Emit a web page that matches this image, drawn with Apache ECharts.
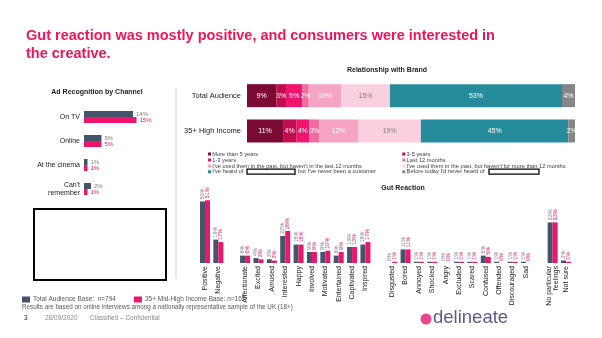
<!DOCTYPE html>
<html><head><meta charset="utf-8">
<script src="https://cdn.jsdelivr.net/npm/echarts@6/dist/echarts.min.js"></script>
<style>html,body{margin:0;padding:0;background:#fff}#c{width:602px;height:338px}</style>
</head><body><div id="c"></div>
<script>
// ---- Ad Recognition by Channel ----
const adCategories = ['On TV', 'Online', 'At the cinema', "Can't\nremember"];
const adTotal = [14, 5, 1, 2];
const adHigh = [15, 5, 1, 1];

// ---- Relationship with Brand ----
const relRows = ['Total Audience', '35+ High Income'];
const relSegments = [
  'More than 5 years',
  '3-5 years',
  '1-3 years',
  'Last 12 months',
  "I've used them in the past, but haven't in the last 12 months",
  "I've used them in the past, but haven't for more than 12 months",
  "I've heard of [brand] but I've never been a customer",
  "Before today I'd never heard of [brand]"
];
const relTotal = [9, 3, 5, 2, 10, 15, 53, 4];
const relHigh = [11, 4, 4, 3, 12, 19, 45, 2];

// ---- Gut Reaction ----
const gutCategories = ['Positive', 'Negative', '', 'Affectionate', 'Excited', 'Amused', 'Interested', 'Happy',
  'Involved', 'Motivated', 'Entertained', 'Captivated', 'Inspired', ' ', 'Disgusted', 'Bored', 'Annoyed',
  'Shocked', 'Angry', 'Excluded', 'Scared', 'Confused', 'Offended', 'Discouraged', 'Sad', '  ',
  'No particular\nfeelings', 'Not sure'];
const gutTotal = [50, 19, null, 6, 4, 3, 22, 15, 9, 9, 6, 13, 15, null, 0, 11, 1, 1, 0, 1, 1, 6, 1, 1, 1, null, 33, 2];
const gutHigh = [51, 17, null, 6, 3, 2, 26, 15, 9, 10, 9, 13, 17, null, 1, 11, 1, 1, 0, 1, 1, 5, 0, 1, 0, null, 33, 1];

const baseNames = ['Total Audience Base:  n=794', '35+ Mid-High Income Base: n=167'];

const FONT = 'Liberation Sans, Arial, sans-serif';
const DARK = '#44546A';
const PINK = '#F0146C';
const relColors = ['#7B0A35', '#C00D4E', '#F0146C', '#F36A9E', '#F7A3C4', '#FAD0E0', '#268C9B', '#858585'];
const relLabelColors = ['#fff', '#fff', '#fff', '#fff', '#fff', '#7f7f7f', '#fff', '#fff'];

const sumT = relTotal.reduce((a, b) => a + b, 0);
const sumH = relHigh.reduce((a, b) => a + b, 0);
const relRaw = [relTotal, relHigh];

const series = [];
// Ad recognition
series.push({
  name: baseNames[0], type: 'bar', xAxisIndex: 0, yAxisIndex: 0, data: adTotal,
  barWidth: 6, barGap: '0%', itemStyle: { color: DARK },
  label: { show: true, position: 'right', distance: 3, formatter: '{c}%', fontSize: 6, color: '#808080', fontFamily: FONT }
});
series.push({
  name: baseNames[1], type: 'bar', xAxisIndex: 0, yAxisIndex: 0, data: adHigh,
  barWidth: 6, barGap: '0%', itemStyle: { color: PINK },
  label: { show: true, position: 'right', distance: 3, formatter: '{c}%', fontSize: 6, color: PINK, fontFamily: FONT }
});
// Relationship
relSegments.forEach((name, i) => {
  series.push({
    name, type: 'bar', stack: 'rel', xAxisIndex: 1, yAxisIndex: 1,
    data: [relTotal[i] / sumT * 100, relHigh[i] / sumH * 100],
    barWidth: 23, itemStyle: { color: relColors[i] },
    label: {
      show: true, position: 'inside', fontSize: 7, color: relLabelColors[i], fontFamily: FONT,
      formatter: p => relRaw[p.dataIndex][i] + '%'
    }
  });
});
// Gut reaction
const gutLabel = (color) => ({
  show: true, position: 'top', rotate: 90, align: 'left', verticalAlign: 'middle', distance: 2,
  formatter: p => (p.value == null ? '' : p.value + '%'), fontSize: 5.5, color, fontFamily: FONT
});
series.push({
  name: baseNames[0], type: 'bar', xAxisIndex: 2, yAxisIndex: 2, data: gutTotal,
  barWidth: 5, barGap: '0%', itemStyle: { color: DARK }, label: gutLabel('#808080')
});
series.push({
  name: baseNames[1], type: 'bar', xAxisIndex: 2, yAxisIndex: 2, data: gutHigh,
  barWidth: 5, barGap: '0%', itemStyle: { color: PINK }, label: gutLabel(PINK)
});

// Relationship legend drawn as graphic items (two columns, redacted brand boxes)
const legendCols = [[0, 2, 4, 6], [1, 3, 5, 7]];
const legendColX = [208, 402.3];
const legendRowY = [154, 160, 166, 171.8];
const brandBoxX = [247, 489];
const legendGraphics = [];
legendCols.forEach((col, c) => {
  col.forEach((si, r) => {
    const x = legendColX[c], y = legendRowY[r];
    legendGraphics.push({ type: 'rect', shape: { x: x, y: y - 1.5, width: 3, height: 3 }, style: { fill: relColors[si] } });
    const parts = relSegments[si].split('[brand]');
    legendGraphics.push({ type: 'text', x: x + 4.3, y: y, style: { text: parts[0].trim(), fontSize: 5.7, fill: '#404040', fontFamily: FONT, textVerticalAlign: 'middle', verticalAlign: 'middle' } });
    if (parts.length > 1) {
      const bx = brandBoxX[c];
      legendGraphics.push({ type: 'rect', shape: { x: bx, y: y - 2.6, width: c === 0 ? 48 : 50, height: 5 }, style: { fill: '#fff', stroke: '#000', lineWidth: 1.3 } });
      if (parts[1].trim()) {
        legendGraphics.push({ type: 'text', x: bx + 51, y: y, style: { text: parts[1].trim(), fontSize: 5.7, fill: '#404040', fontFamily: FONT, verticalAlign: 'middle' } });
      }
    }
  });
});

const option = {
  animation: false,
  textStyle: { fontFamily: FONT },
  title: [
    { text: 'Gut reaction was mostly positive, and consumers were interested in\nthe creative.', left: 26, top: 27, padding: 0,
      textStyle: { fontSize: 14.5, fontWeight: 'bold', color: '#F0145A', lineHeight: 18, fontFamily: FONT } },
    { text: 'Ad Recognition by Channel', left: 97, top: 89, textAlign: 'center', padding: 0,
      textStyle: { fontSize: 7, fontWeight: 'bold', color: '#222', fontFamily: FONT } },
    { text: 'Relationship with Brand', left: 387, top: 67, textAlign: 'center', padding: 0,
      textStyle: { fontSize: 7, fontWeight: 'bold', color: '#222', fontFamily: FONT } },
    { text: 'Gut Reaction', left: 403, top: 185, textAlign: 'center', padding: 0,
      textStyle: { fontSize: 7, fontWeight: 'bold', color: '#222', fontFamily: FONT } }
  ],
  legend: [
    { data: baseNames, left: 22, top: 296, itemWidth: 8, itemHeight: 6, itemGap: 18, icon: 'rect',
      selectedMode: false, padding: 0,
      textStyle: { fontSize: 6.5, color: '#595959', fontFamily: FONT, padding: [0, 0, 0, -2] } }
  ],
  grid: [
    { left: 84, top: 105, width: 70, height: 96 },
    { left: 247, top: 78, width: 328, height: 70.6 },
    { left: 198.3, top: 189.2, width: 374.4, height: 73.8 }
  ],
  xAxis: [
    { type: 'value', gridIndex: 0, min: 0, max: 20, show: false },
    { type: 'value', gridIndex: 1, min: 0, max: 100, show: false },
    { type: 'category', gridIndex: 2, data: gutCategories,
      axisLine: { show: false }, axisTick: { show: false },
      axisLabel: { interval: 0, rotate: 90, fontSize: 7, lineHeight: 7, color: '#222', margin: 3, fontFamily: FONT } }
  ],
  yAxis: [
    { type: 'category', gridIndex: 0, data: adCategories, inverse: true,
      axisLine: { show: false }, axisTick: { show: false },
      axisLabel: { fontSize: 7, lineHeight: 8, color: '#222', margin: 4, fontFamily: FONT } },
    { type: 'category', gridIndex: 1, data: relRows, inverse: true,
      axisLine: { show: false }, axisTick: { show: false },
      axisLabel: { fontSize: 7.5, color: '#222', margin: 6, fontFamily: FONT } },
    { type: 'value', gridIndex: 2, min: 0, max: 60, show: false }
  ],
  series,
  graphic: [
    { type: 'line', shape: { x1: 176, y1: 88, x2: 176, y2: 279 }, style: { stroke: '#d0d0d0', lineWidth: 1 } },
    { type: 'rect', shape: { x: 34, y: 209, width: 132, height: 71 }, style: { fill: '#fff', stroke: '#000', lineWidth: 2 } },
    { type: 'text', left: 22, top: 304, style: { text: 'Results are based on online interviews among a nationally representative sample of the UK (18+)', fontSize: 6.3, fill: '#595959', fontFamily: FONT } },
    { type: 'text', left: 24, top: 315, style: { text: '3', fontSize: 6.5, fill: '#222', fontFamily: FONT } },
    { type: 'text', left: 45, top: 315, style: { text: '28/09/2020', fontSize: 6.5, fill: '#8a8a8a', fontFamily: FONT } },
    { type: 'text', left: 90, top: 315, style: { text: 'Classified \u2013 Confidential', fontSize: 6.5, fill: '#8a8a8a', fontFamily: FONT } },
    { type: 'circle', shape: { cx: 426, cy: 319, r: 5.5 }, style: { fill: '#E8488A' } },
    { type: 'text', left: 433, top: 308, style: { text: 'delineate', fontSize: 18.5, fill: '#5C5B8F', fontFamily: FONT } }
  ].concat(legendGraphics)
};
const chart = echarts.init(document.getElementById('c'), null, { renderer: 'canvas' });
chart.setOption(option);
</script></body></html>
